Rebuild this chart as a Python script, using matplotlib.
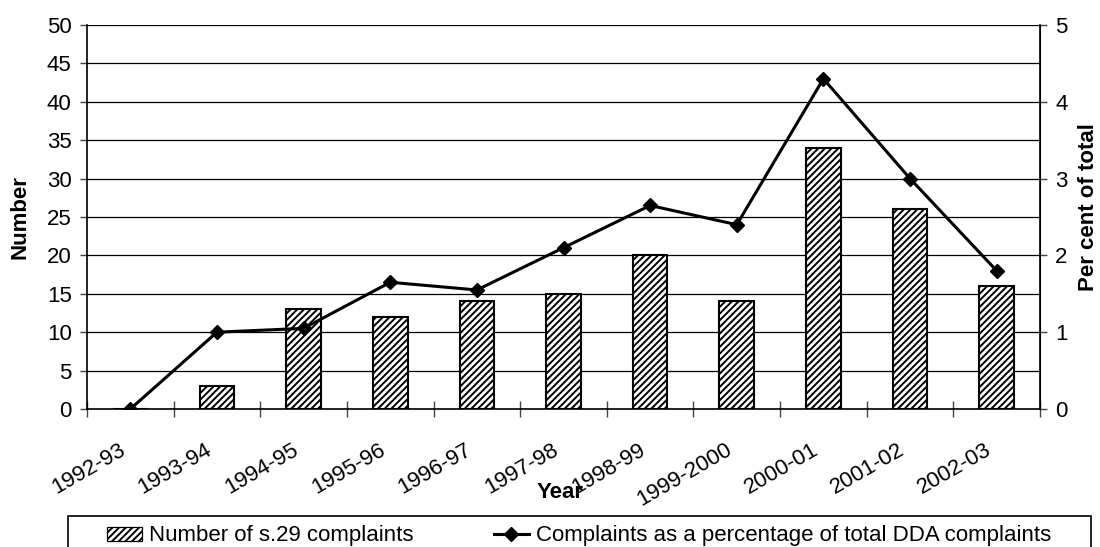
import matplotlib
matplotlib.use("Agg")
import matplotlib.pyplot as plt
from matplotlib.patches import Patch, Rectangle
from matplotlib.lines import Line2D
from matplotlib.transforms import ScaledTranslation
import numpy as np

years = ["1992-93", "1993-94", "1994-95", "1995-96", "1996-97", "1997-98",
         "1998-99", "1999-2000", "2000-01", "2001-02", "2002-03"]
complaints = [0, 3, 13, 12, 14, 15, 20, 14, 34, 26, 16]
percent_of_total = [0.0, 1.0, 1.05, 1.65, 1.55, 2.1, 2.65, 2.4, 4.3, 3.0, 1.8]
left_ticks = list(range(0, 55, 5))
right_ticks = list(range(0, 6))

plt.rcParams["font.family"] = ["Liberation Sans", "DejaVu Sans"]
plt.rcParams["hatch.linewidth"] = 1.4
FS = 16

fig = plt.figure(figsize=(11, 5.47), dpi=100)
ax = fig.add_axes([87 / 1100, 1 - 409 / 547, (1040 - 87) / 1100, (409 - 25) / 547])

x = np.arange(len(years))
ax.bar(x, complaints, width=0.40, color="white", edgecolor="black",
       linewidth=1.5, hatch="/////", zorder=3)

ax.set_xlim(-0.5, len(years) - 0.5)
ax.set_ylim(0, 50)
ax.set_yticks(left_ticks)
ax.tick_params(axis="y", direction="out", length=5, width=1, pad=6,
               labelsize=FS, color="#444444")
ax.yaxis.grid(True, color="black", linewidth=0.9, zorder=0)
ax.set_axisbelow(True)

# boundaries between years carry the tick marks, labels sit at the year centres
ax.set_xticks(np.arange(-0.5, len(years), 1.0))
ax.set_xticklabels([])
ax.tick_params(axis="x", which="major", direction="inout", length=11, width=1,
               color="#444444")
ax.set_xticks(x, minor=True)
ax.set_xticklabels(years, minor=True, rotation=30, ha="right", va="top",
                   rotation_mode="anchor", fontsize=FS)
ax.tick_params(axis="x", which="minor", length=0, pad=22)
shift = ScaledTranslation(-12 / 100, 0, fig.dpi_scale_trans)
for lbl in ax.get_xticklabels(minor=True):
    lbl.set_transform(lbl.get_transform() + shift)

ax.spines["top"].set_visible(False)
ax.spines["left"].set_linewidth(1.2)
ax.spines["bottom"].set_linewidth(1.2)

ax2 = ax.twinx()
ax2.plot(x, percent_of_total, color="black", linewidth=2.2, marker="D",
         markersize=7, zorder=5)
ax2.set_ylim(0, 5)
ax2.set_yticks(right_ticks)
ax2.tick_params(axis="y", direction="out", length=5, width=1, pad=6,
                labelsize=FS, color="#444444")
ax2.spines["top"].set_visible(False)
ax2.spines["left"].set_visible(False)
ax2.spines["bottom"].set_visible(False)
ax2.spines["right"].set_linewidth(1.2)

fig.text(20 / 1100, 1 - 217 / 547, "Number", rotation=90, ha="center",
         va="center", fontsize=FS, fontweight="bold")
fig.text(1089 / 1100, 1 - 207 / 547, "Per cent of total", rotation=90,
         ha="center", va="center", fontsize=FS, fontweight="bold")
fig.text(560 / 1100, 1 - 493 / 547, "Year", ha="center", va="center",
         fontsize=FS, fontweight="bold")

# legend with a frame running off the bottom edge
fig.patches.append(Rectangle((68 / 1100, -0.05), (1091 - 68) / 1100,
                             0.05 + 1 - 516 / 547, transform=fig.transFigure,
                             facecolor="white", edgecolor="black",
                             linewidth=1.2, zorder=0))
handles = [
    Patch(facecolor="white", edgecolor="black", hatch="/////", linewidth=0.9,
          label="Number of s.29 complaints"),
    Line2D([], [], color="black", linewidth=2.2, marker="D", markersize=7,
           label="Complaints as a percentage of total DDA complaints"),
]
fig.legend(handles=handles, loc="center", ncol=2, frameon=False,
           bbox_to_anchor=(579 / 1100, 1 - 536 / 547), fontsize=FS,
           handlelength=1.6, handletextpad=0.3, columnspacing=3.6,
           handleheight=0.6)

fig.savefig("out.png", dpi=100)
